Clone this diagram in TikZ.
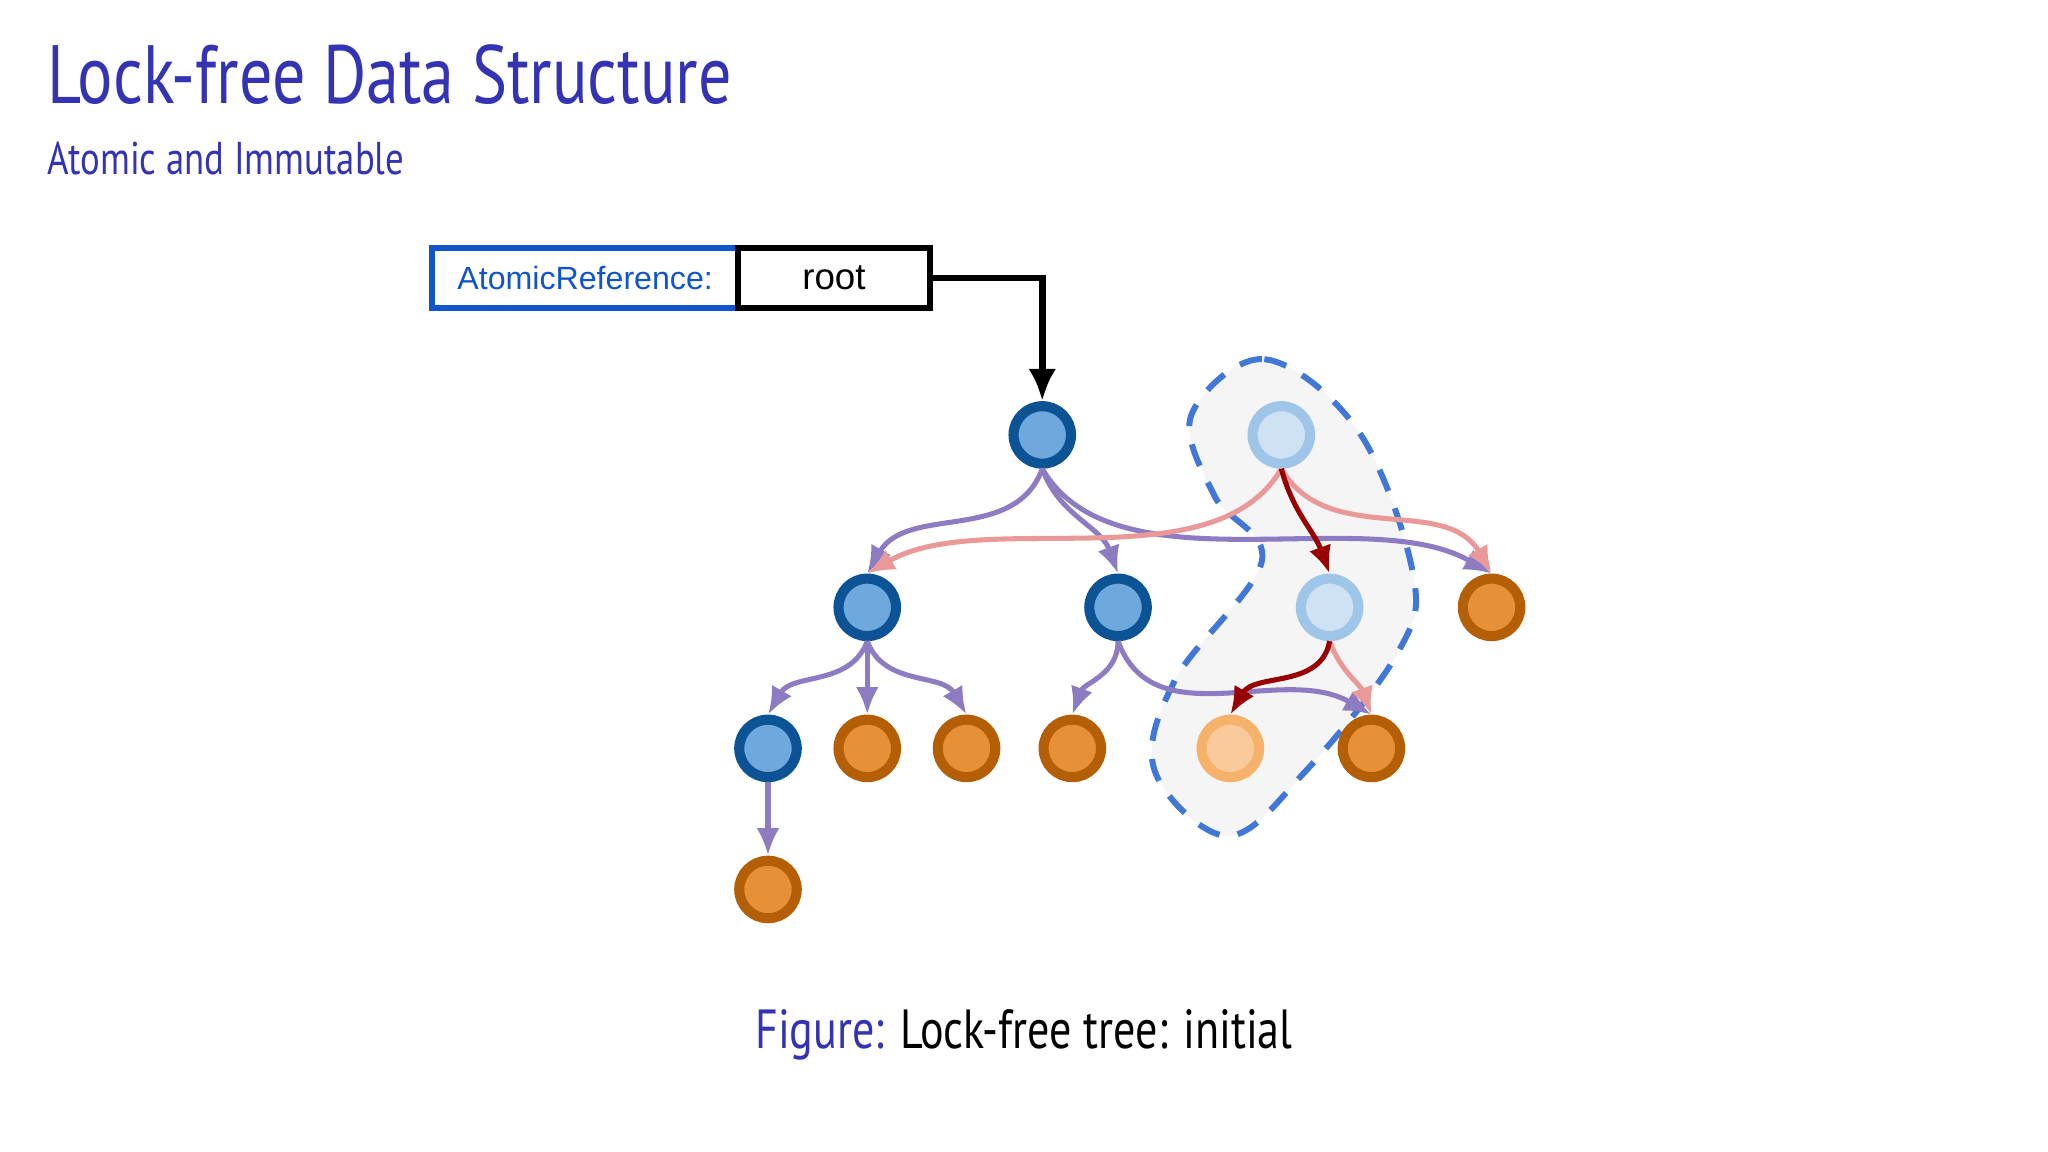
\documentclass[tikz,border=0pt]{standalone}
\usepackage{fontspec}
\setmainfont{PT Sans}[FakeStretch=0.8]
\newfontfamily\boxfont{Liberation Sans}
\usetikzlibrary{arrows.meta}
\definecolor{titleblue}{HTML}{3333B3}
\definecolor{nodeblue}{HTML}{6FA8DC}
\definecolor{edgeblue}{HTML}{0B5394}
\definecolor{nodeorange}{HTML}{E69138}
\definecolor{edgeorange}{HTML}{B45F06}
\definecolor{lightblue}{HTML}{CFE2F3}
\definecolor{lightedge}{HTML}{9FC5E8}
\definecolor{lightorange}{HTML}{F9CB9C}
\definecolor{lightoedge}{HTML}{F6B26B}
\definecolor{purpleline}{HTML}{8E7CC3}
\definecolor{pinkline}{HTML}{EA9999}
\definecolor{darkred}{HTML}{990000}
\definecolor{refblue}{HTML}{1155CC}

\begin{document}
\begin{tikzpicture}[
    x=0.01cm, y=-0.01cm,
    tree/.style = {circle, minimum size=0.44cm, inner sep=0pt, line width=2.2pt},
    inner/.style = {tree, draw=edgeblue, fill=nodeblue},
    leaf/.style = {tree, draw=edgeorange, fill=nodeorange},
    newinner/.style = {tree, draw=lightedge, fill=lightblue},
    newleaf/.style = {tree, draw=lightoedge, fill=lightorange},
    old/.style = {-{Latex[length=6pt,width=5pt]}, purpleline, line width=1.1pt},
    shared/.style = {-{Latex[length=6pt,width=5pt]}, pinkline, line width=1.1pt},
    fresh/.style = {-{Latex[length=6pt,width=5pt]}, darkred, line width=1.1pt}]
    \useasboundingbox (0,0) rectangle (1568,882);

    % HEADER
    \node[anchor=west, text=titleblue, font=\fontsize{18}{22}\selectfont] (title) at (24,57) {Lock-free Data Structure};
    \node[anchor=west, text=titleblue, font=\fontsize{10}{12}\selectfont] (subtitle) at (24,121) {Atomic and Immutable};

    % REFERENCE BOX
    \node[draw=refblue, line width=1.4pt, minimum width=2.34cm, minimum height=0.46cm, text=refblue, font=\boxfont\fontsize{7}{9}\selectfont] (ref) at (448,213) {AtomicReference:};
    \node[draw=black, line width=1.4pt, minimum width=1.47cm, minimum height=0.46cm, font=\boxfont\fontsize{8}{9}\selectfont] (root) at (638.5,213) {root};

    % SHADED PATH
    \fill[gray!8] plot[smooth cycle, tension=0.6] coordinates {(912,318) (968,275) (1040,330) (1082,440) (1070,500) (1000,590) (940,640) (884,590) (900,520) (966,430) (930,380)};
    \draw[refblue!80, line width=1.3pt, dash pattern=on 5pt off 4pt] plot[smooth cycle, tension=0.6] coordinates {(912,318) (968,275) (1040,330) (1082,440) (1070,500) (1000,590) (940,640) (884,590) (900,520) (966,430) (930,380)};

    % NODES
    \node[inner] (A) at (798,333) {};
    \node[newinner] (L) at (981,333) {};
    \node[inner] (B) at (664,465) {};
    \node[inner] (C) at (856,465) {};
    \node[newinner] (M) at (1018,465) {};
    \node[leaf] (O) at (1142,465) {};
    \node[inner] (D) at (588,573) {};
    \node[leaf] (E) at (664,573) {};
    \node[leaf] (F) at (740,573) {};
    \node[leaf] (G) at (821,573) {};
    \node[newleaf] (N) at (942,573) {};
    \node[leaf] (H) at (1050,573) {};
    \node[leaf] (I) at (588,681) {};

    % CAPTION
    \node[font=\fontsize{12}{14}\selectfont] (cap) at (784,792) {\textcolor{titleblue}{Figure:} Lock-free tree: initial};

    % ARROWS
    \draw[line width=1.4pt, -{Latex[length=7pt,width=6pt]}] (root.east) -| (A.north);
    \draw[old] (A.south) to[out=-110, in=60] (B.north);
    \draw[old] (A.south) to[out=-70, in=110] (C.north);
    \draw[old] (A.south) to[out=-60, in=150, looseness=0.8] (O.north);
    \draw[shared] (L.south) to[out=-120, in=30, looseness=0.8] (B.north);
    \draw[shared] (L.south) to[out=-60, in=120] (O.north);
    \draw[fresh] (L.south) to[out=-75, in=110] (M.north);
    \draw[old] (B.south) to[out=-110, in=60] (D.north);
    \draw[old] (B.south) -- (E.north);
    \draw[old] (B.south) to[out=-70, in=120] (F.north);
    \draw[old] (C.south) to[out=-90, in=70] (G.north);
    \draw[old] (C.south) to[out=-70, in=150] (H.north);
    \draw[shared] (M.south) to[out=-70, in=110] (H.north);
    \draw[fresh] (M.south) to[out=-100, in=60] (N.north);
    \draw[old] (D.south) -- (I.north);
\end{tikzpicture}
\end{document}
